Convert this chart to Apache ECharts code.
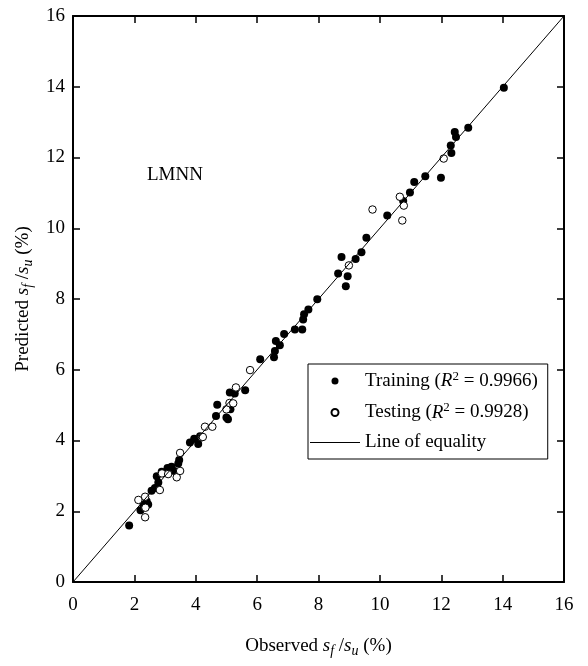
<!DOCTYPE html>
<html>
<head>
<meta charset="utf-8">
<script src="https://cdn.jsdelivr.net/npm/echarts@6/dist/echarts.min.js"></script>
<style>
  html, body { margin: 0; padding: 0; background: #fff; }
  #chart { width: 588px; height: 666px; }
</style>
</head>
<body>
<div id="chart"></div>
<script>
// observed vs predicted sf/su (%)
const trainingObserved = [1.83, 2.20, 2.30, 2.45, 2.40, 2.56, 2.67, 2.78, 2.73, 2.89, 3.08, 3.21, 3.30, 3.43, 3.46,
  3.81, 3.95, 4.08, 4.14, 4.66, 4.70, 5.00, 5.05, 5.13, 5.11, 5.27, 5.61, 6.10, 6.55, 6.58, 6.61, 6.74, 6.88,
  7.23, 7.47, 7.50, 7.53, 7.67, 7.96, 8.64, 8.75, 8.89, 8.95, 9.21, 9.40, 9.56, 10.24, 10.76, 10.98, 11.12,
  11.48, 11.99, 12.33, 12.31, 12.48, 12.44, 12.88, 14.04]
const trainingPredicted = [1.60, 2.03, 2.18, 2.19, 2.28, 2.58, 2.66, 2.81, 2.99, 3.12, 3.22, 3.26, 3.14, 3.35, 3.45,
  3.94, 4.05, 3.90, 4.12, 4.69, 5.01, 4.65, 4.60, 4.88, 5.36, 5.33, 5.42, 6.30, 6.35, 6.53, 6.81, 6.69, 7.01,
  7.14, 7.14, 7.42, 7.57, 7.70, 7.99, 8.72, 9.19, 8.36, 8.64, 9.13, 9.32, 9.73, 10.36, 10.77, 11.01, 11.31,
  11.47, 11.43, 12.13, 12.34, 12.58, 12.72, 12.84, 13.97]
const testingObserved = [2.13, 2.35, 2.36, 2.35, 2.83, 2.90, 3.10, 3.38, 3.49, 3.49, 4.19, 4.23, 4.30, 4.54,
  5.00, 5.10, 5.22, 5.31, 5.77, 8.99, 9.76, 10.65, 10.73, 10.78, 12.08]
const testingPredicted = [2.32, 2.41, 2.10, 1.83, 2.60, 3.07, 3.05, 2.96, 3.14, 3.65, 4.09, 4.10, 4.39, 4.39,
  4.88, 5.06, 5.05, 5.50, 5.99, 8.95, 10.53, 10.89, 10.22, 10.64, 11.97]
const equalityLine = [0, 16]
const axisTicks = [0, 16, 2] // min, max, interval

const FONT = 'Liberation Serif'

const pairs = (xs, ys) => xs.map((x, i) => [x, ys[i]])

const chart = echarts.init(document.getElementById('chart'))

const boxAxis = (pos, isX, showLabel) => ({
  type: 'value',
  position: pos,
  min: axisTicks[0],
  max: axisTicks[1],
  interval: axisTicks[2],
  splitLine: { show: false },
  axisLine: { show: true, onZero: false, lineStyle: { color: '#000', width: 2 } },
  axisTick: { show: true, inside: true, length: 7, lineStyle: { color: '#000', width: 1.5 } },
  axisLabel: {
    show: showLabel,
    color: '#000',
    fontFamily: FONT,
    fontSize: 19,
    margin: isX ? 14 : 8
  }
})

const nameRich = {
  t: { fontFamily: FONT, fontSize: 19, color: '#000', lineHeight: 24 },
  i: { fontFamily: FONT, fontSize: 19, fontStyle: 'italic', color: '#000', lineHeight: 24 },
  sub: { fontFamily: FONT, fontSize: 14, fontStyle: 'italic', color: '#000', lineHeight: 14, verticalAlign: 'bottom' }
}
const axisName = (label) => `{t|${label} }{i|s}{sub|f}{t| /}{i|s}{sub|u}{t| (%)}`

const xMain = boxAxis('bottom', true, true)
xMain.name = axisName('Observed')
xMain.nameLocation = 'middle'
xMain.nameGap = 52
xMain.nameTextStyle = { rich: nameRich }

const yMain = boxAxis('left', false, true)
yMain.name = axisName('Predicted')
yMain.nameLocation = 'middle'
yMain.nameGap = 38
yMain.nameTextStyle = { rich: nameRich }

const legendRich = {
  t: { fontFamily: FONT, fontSize: 19, color: '#000', lineHeight: 22 },
  i: { fontFamily: FONT, fontSize: 19, fontStyle: 'italic', color: '#000', lineHeight: 22 },
  sup: { fontFamily: FONT, fontSize: 13, color: '#000', lineHeight: 13, verticalAlign: 'top' }
}
const legendLabels = {
  'Training': '{t|Training (}{i|R}{sup|2}{t| = 0.9966)}',
  'Testing': '{t|Testing (}{i|R}{sup|2}{t| = 0.9928)}',
  'Line of equality': '{t|Line of equality}'
}

const option = {
  backgroundColor: '#fff',
  animation: false,
  title: {
    text: 'LMNN',
    left: 142,
    top: 161,
    textStyle: { fontFamily: FONT, fontSize: 19, fontWeight: 'normal', color: '#000' }
  },
  grid: { left: 73, right: 24, top: 16, bottom: 84 },
  xAxis: [xMain, boxAxis('top', true, false)],
  yAxis: [yMain, boxAxis('right', false, false)],
  legend: {
    orient: 'vertical',
    left: 308,
    top: 364,
    itemWidth: 50,
    itemHeight: 7,
    itemGap: 11,
    padding: [6, 10, 7, 2],
    borderColor: '#000',
    borderWidth: 1,
    textStyle: { rich: legendRich },
    formatter: (name) => legendLabels[name],
    data: [
      'Training',
      'Testing',
      { name: 'Line of equality', icon: 'path://M0,0H100V2H0Z', itemStyle: { color: '#000' } }
    ]
  },
  series: [
    {
      name: 'Line of equality',
      type: 'line',
      data: pairs(equalityLine, equalityLine),
      symbol: 'none',
      lineStyle: { color: '#000', width: 1 },
      itemStyle: { color: '#000' },
      silent: true
    },
    {
      name: 'Training',
      type: 'scatter',
      data: pairs(trainingObserved, trainingPredicted),
      symbol: 'circle',
      symbolSize: 8,
      itemStyle: { color: '#000', opacity: 1 }
    },
    {
      name: 'Testing',
      type: 'scatter',
      data: pairs(testingObserved, testingPredicted),
      symbol: 'circle',
      symbolSize: 7.5,
      itemStyle: { color: '#fff', borderColor: '#000', borderWidth: 1, opacity: 1 }
    }
  ]
}

chart.setOption(option)
</script>
</body>
</html>
